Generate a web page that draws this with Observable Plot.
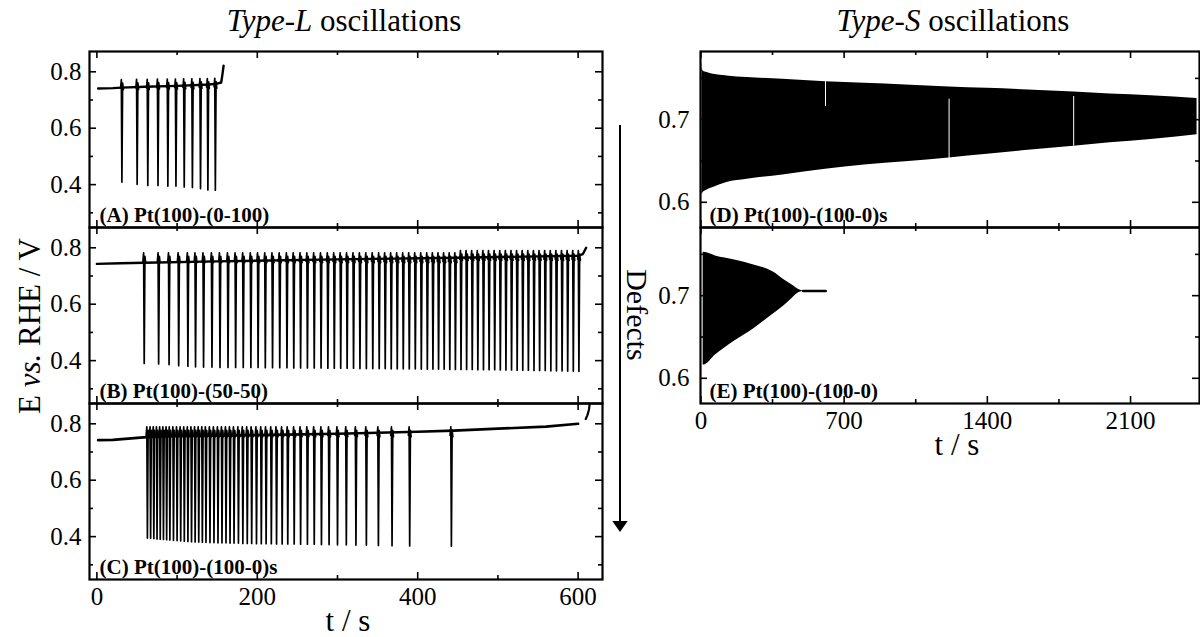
<!DOCTYPE html>
<html><head><meta charset="utf-8">
<script src="https://cdn.jsdelivr.net/npm/d3@7"></script>
<script src="https://cdn.jsdelivr.net/npm/@observablehq/plot@0.6"></script>
<style>
body{margin:0;background:#fff;}
#root{position:relative;width:1200px;height:637px;overflow:hidden;font-family:"Liberation Serif","Times New Roman",serif;}
#root .pn{position:absolute;}
#root svg{overflow:visible;max-width:none !important;}
</style></head><body><div id="root"></div>
<script>
// ---------- Panel A: Pt(100)-(0-100) ----------
const aBaseT = [1.6, 20, 31, 60, 100, 140, 150, 155, 156.5, 158];
const aBaseE = [0.741, 0.742, 0.744, 0.747, 0.750, 0.755, 0.758, 0.762, 0.790, 0.822];
const aSpikeT = [31.2, 50.2, 63.5, 76.2, 88.5, 98.6, 108.9, 119.1, 129.2, 138.4, 147.7];
const aSpikeMin = [0.409, 0.401, 0.397, 0.397, 0.395, 0.395, 0.392, 0.390, 0.386, 0.381, 0.380];
const aSpikeMax = [0.772, 0.773, 0.773, 0.774, 0.774, 0.774, 0.775, 0.775, 0.776, 0.776, 0.777];

// ---------- Panel B: Pt(100)-(50-50) ----------
const bBaseT = [0, 30, 59, 150, 300, 450, 600, 606, 610];
const bBaseE = [0.743, 0.745, 0.747, 0.752, 0.759, 0.765, 0.772, 0.778, 0.800];
const bSpikeT = [59, 77, 90, 102, 113.5, 123, 133, 143.5, 153.5, 163.5, 173, 182.5, 192, 201, 210, 219, 228, 237, 245.5, 254, 262.5, 271, 279.5, 288, 296, 304, 312, 320, 328, 336, 344, 352, 359.5, 367, 374.5, 382, 389.5, 397, 404.5, 412, 419, 426, 433, 440, 447, 454, 461, 468, 475, 482, 489, 496, 503, 510, 517, 524, 531, 538, 545, 552, 559, 566, 573, 580, 587, 594, 601];
const bSpikeMin = [0.390, 0.388, 0.386, 0.382, 0.380, 0.378, 0.377, 0.377, 0.376, 0.376, 0.376, 0.376, 0.376, 0.376, 0.375, 0.375, 0.375, 0.375, 0.374, 0.374, 0.374, 0.374, 0.374, 0.373, 0.373, 0.373, 0.373, 0.373, 0.372, 0.372, 0.372, 0.372, 0.372, 0.371, 0.371, 0.371, 0.371, 0.371, 0.370, 0.370, 0.370, 0.370, 0.370, 0.369, 0.369, 0.369, 0.369, 0.369, 0.368, 0.368, 0.368, 0.368, 0.367, 0.367, 0.367, 0.366, 0.366, 0.366, 0.365, 0.365, 0.365, 0.364, 0.364, 0.364, 0.363, 0.363, 0.362];
const bSpikeMax = 0.782;
const bSpikeMaxEnd = 0.790;

// ---------- Panel C: Pt(100)-(100-0)s ----------
const cBaseT = [1.5, 20, 58, 100, 200, 300, 400, 445, 500, 560, 600];
const cBaseE = [0.742, 0.743, 0.752, 0.757, 0.760, 0.765, 0.772, 0.776, 0.783, 0.790, 0.800];
const cRiseT = [609.5, 611.5, 613.5, 614.7];
const cRiseE = [0.817, 0.830, 0.850, 0.876];
const cSpikeT = [63, 67, 71, 75, 79, 83, 87, 91, 95.5, 100, 104.5, 109, 113.5, 118, 122.5, 127, 131.5, 136, 141, 146, 151, 156, 161, 166, 171, 176.5, 182, 187.5, 193, 199, 205, 211, 217.5, 224, 231, 238, 246, 254, 262.5, 271, 280, 289.5, 300, 311, 323, 336, 351, 368, 390, 442];
const cSpikeMin = [0.395, 0.394, 0.393, 0.392, 0.391, 0.390, 0.389, 0.388, 0.387, 0.386, 0.385, 0.384, 0.383, 0.382, 0.381, 0.381, 0.380, 0.380, 0.379, 0.379, 0.378, 0.378, 0.378, 0.377, 0.377, 0.377, 0.376, 0.376, 0.376, 0.375, 0.375, 0.375, 0.375, 0.374, 0.374, 0.374, 0.374, 0.373, 0.373, 0.373, 0.372, 0.372, 0.371, 0.371, 0.370, 0.370, 0.369, 0.368, 0.367, 0.366];
const cSpikeMax = 0.789;

// ---------- Panel D: Pt(100)-(100-0)s (Type-S) ----------
const dT  = [5, 7, 11, 30, 60, 127, 226, 400, 609, 800, 1000, 1213, 1400, 1600, 1822, 2000, 2200, 2425];
const dHi = [0.768, 0.762, 0.759, 0.757, 0.755, 0.753, 0.751, 0.749, 0.746, 0.744, 0.742, 0.7395, 0.738, 0.736, 0.7335, 0.731, 0.729, 0.7255];
const dLo = [0.609, 0.610, 0.612, 0.615, 0.618, 0.624, 0.628, 0.633, 0.640, 0.645, 0.649, 0.6537, 0.658, 0.663, 0.6677, 0.672, 0.676, 0.6819];
const dGapT  = [609, 1213, 1822];
const dGapLo = [0.716, 0.653, 0.668];
const dGapHi = [0.746, 0.7247, 0.728];

// ---------- Panel E: Pt(100)-(100-0) ----------
const eT  = [11, 14.7, 71, 165, 258.6, 352, 408, 445.7, 483, 500];
const eHi = [0.7524, 0.7524, 0.7480, 0.7432, 0.7371, 0.729, 0.719, 0.713, 0.7069, 0.7057];
const eLo = [0.6161, 0.6161, 0.6282, 0.6450, 0.6600, 0.6774, 0.6880, 0.6967, 0.704, 0.7050];
const eFlatT = [500, 610];
const eFlatE = [0.7057, 0.7057];

// ---------- axes ----------
const leftXDomain = [-9.2, 630.4];
const leftYDomain = [0.248, 0.872];
const leftXMajor = [0, 200, 400, 600], leftXMinor = [100, 300, 500];
const leftYMajor = [0.4, 0.6, 0.8], leftYMinor = [0.3, 0.5, 0.7];
const rightXDomain = [-2, 2437];
const rightYDomain = [0.5695, 0.7825];
const rightXMajor = [0, 700, 1400, 2100], rightXMinor = [350, 1050, 1750];
const rightYMajor = [0.6, 0.7], rightYMinor = [0.65, 0.75];

const labels = ["(A) Pt(100)-(0-100)", "(B) Pt(100)-(50-50)", "(C) Pt(100)-(100-0)s", "(D) Pt(100)-(100-0)s", "(E) Pt(100)-(100-0)"];

// ---------- helpers ----------
const zip = (ts, es) => ts.map((t, i) => ({t, E: es[i]}));
// one spike = short rise to its maximum, drop to its minimum, recovery
function spikeRows(ts, mins, maxs) {
  const rows = [];
  ts.forEach((t, i) => {
    const mx = Array.isArray(maxs) ? maxs[i] : maxs;
    rows.push({t: t - 1.6, E: mx - 0.03, k: i});
    rows.push({t: t - 0.7, E: mx, k: i});
    rows.push({t: t, E: mins[i], k: i});
    rows.push({t: t + 0.9, E: mx - 0.012, k: i});
    rows.push({t: t + 1.8, E: mx - 0.035, k: i});
  });
  return rows;
}
const FONT = "'Liberation Serif','Times New Roman',serif";
const root = document.getElementById("root");

function panel(cfg) {
  const M = 40;
  const iw = cfg.fx1 - cfg.fx0, ih = cfg.fy1 - cfg.fy0;
  const marks = [
    ...cfg.marks,
    Plot.tickY(cfg.yMajor, {insetRight: iw - 7, strokeWidth: 1.6}),
    Plot.tickY(cfg.yMinor, {insetRight: iw - 4, strokeWidth: 1.6}),
    Plot.tickY(cfg.yMajor, {insetLeft: iw - 7, strokeWidth: 1.6}),
    Plot.tickY(cfg.yMinor, {insetLeft: iw - 4, strokeWidth: 1.6}),
    Plot.tickX(cfg.xMajor, {insetTop: ih - 7, strokeWidth: 1.6}),
    Plot.tickX(cfg.xMinor, {insetTop: ih - 4, strokeWidth: 1.6}),
    Plot.tickX(cfg.xMajor, {insetBottom: ih - 7, strokeWidth: 1.6}),
    Plot.tickX(cfg.xMinor, {insetBottom: ih - 4, strokeWidth: 1.6}),
    Plot.axisY(cfg.yMajor, {anchor: "left", tickSize: 0, tickPadding: cfg.ypad, tickFormat: d => d.toFixed(1), fontSize: 25, label: null}),
    Plot.frame({strokeWidth: 2.2, stroke: "black"}),
    Plot.text([cfg.label], {frameAnchor: "bottom-left", dx: cfg.ldx, dy: -6, lineAnchor: "bottom", textAnchor: "start", fontWeight: "bold", fontSize: 21, fill: "black"})
  ];
  if (cfg.xLabels) marks.push(Plot.axisX(cfg.xMajor, {anchor: "bottom", tickSize: 0, tickPadding: 8, tickFormat: d => String(d), fontSize: 25, label: null}));
  const p = Plot.plot({
    width: iw + 2 * M, height: ih + 2 * M,
    marginLeft: M, marginRight: M, marginTop: M, marginBottom: M,
    x: {domain: cfg.xDomain, axis: cfg.xLabels ? undefined : null},
    y: {domain: cfg.yDomain},
    style: {background: "transparent", overflow: "visible", fontFamily: FONT, fontSize: "25px", color: "black", maxWidth: "none"},
    marks
  });
  const d = document.createElement("div");
  d.className = "pn";
  d.style.left = (cfg.fx0 - M) + "px";
  d.style.top = (cfg.fy0 - M) + "px";
  d.style.width = (iw + 2 * M) + "px";
  d.style.height = (ih + 2 * M) + "px";
  d.appendChild(p);
  root.appendChild(d);
}

const lineOpts = {x: "t", y: "E", stroke: "black", strokeWidth: 1.7};

// Left column
panel({fx0: 89, fx1: 602, fy0: 51, fy1: 227, xDomain: leftXDomain, yDomain: leftYDomain, ypad: 8,
  xMajor: leftXMajor, xMinor: leftXMinor, yMajor: leftYMajor, yMinor: leftYMinor, label: labels[0], ldx: 10,
  marks: [Plot.line(zip(aBaseT, aBaseE), {...lineOpts, strokeWidth: 2.4}),
          Plot.line(spikeRows(aSpikeT, aSpikeMin, aSpikeMax), {...lineOpts, z: "k"})]});
panel({fx0: 89, fx1: 602, fy0: 227, fy1: 403, xDomain: leftXDomain, yDomain: leftYDomain, ypad: 8,
  xMajor: leftXMajor, xMinor: leftXMinor, yMajor: leftYMajor, yMinor: leftYMinor, label: labels[1], ldx: 10,
  marks: [Plot.line(zip(bBaseT, bBaseE), {...lineOpts, strokeWidth: 2.4}),
          Plot.line(spikeRows(bSpikeT, bSpikeMin, bSpikeT.map((t) => t < 450 ? bSpikeMax : bSpikeMaxEnd)), {...lineOpts, z: "k"})]});
panel({fx0: 89, fx1: 602, fy0: 403, fy1: 579, xDomain: leftXDomain, yDomain: leftYDomain, ypad: 8, xLabels: true,
  xMajor: leftXMajor, xMinor: leftXMinor, yMajor: leftYMajor, yMinor: leftYMinor, label: labels[2], ldx: 10,
  marks: [Plot.line(zip(cBaseT, cBaseE), {...lineOpts, strokeWidth: 2.6}),
          Plot.line(zip(cRiseT, cRiseE), {...lineOpts, strokeWidth: 2.2, clip: true}),
          Plot.line(spikeRows(cSpikeT, cSpikeMin, cSpikeMax), {...lineOpts, z: "k"})]});

// Right column
const dRows = dT.map((t, i) => ({t, lo: dLo[i], hi: dHi[i]}));
const dGaps = dGapT.map((t, i) => ({t, lo: dGapLo[i], hi: dGapHi[i]}));
const eRows = eT.map((t, i) => ({t, lo: eLo[i], hi: eHi[i]}));
panel({fx0: 700, fx1: 1199, fy0: 51, fy1: 227, xDomain: rightXDomain, yDomain: rightYDomain, ypad: 11,
  xMajor: rightXMajor, xMinor: rightXMinor, yMajor: rightYMajor, yMinor: rightYMinor, label: labels[3], ldx: 9,
  marks: [Plot.areaY(dRows, {x: "t", y1: "lo", y2: "hi", fill: "black", curve: "monotone-x"}),
          Plot.ruleX(dGaps, {x: "t", y1: "lo", y2: "hi", stroke: "white", strokeWidth: 1})]});
panel({fx0: 700, fx1: 1199, fy0: 227, fy1: 403, xDomain: rightXDomain, yDomain: rightYDomain, ypad: 11, xLabels: true,
  xMajor: rightXMajor, xMinor: rightXMinor, yMajor: rightYMajor, yMinor: rightYMinor, label: labels[4], ldx: 9,
  marks: [Plot.areaY(eRows, {x: "t", y1: "lo", y2: "hi", fill: "black", curve: "monotone-x"}),
          Plot.line(zip(eFlatT, eFlatE), {...lineOpts, strokeWidth: 2.6})]});

// Annotations (titles, axis titles, defects arrow)
const ns = "http://www.w3.org/2000/svg";
const ov = document.createElementNS(ns, "svg");
ov.setAttribute("width", 1200); ov.setAttribute("height", 637);
ov.style.position = "absolute"; ov.style.left = "0"; ov.style.top = "0";
ov.style.fontFamily = FONT;
ov.innerHTML = `
  <text x="344" y="31" text-anchor="middle" font-size="31"><tspan font-style="italic">Type-L</tspan> oscillations</text>
  <text x="953" y="31" text-anchor="middle" font-size="31"><tspan font-style="italic">Type-S</tspan> oscillations</text>
  <text transform="translate(40,326) rotate(-90)" text-anchor="middle" font-size="31">E <tspan font-style="italic">vs.</tspan> RHE / V</text>
  <text x="348" y="631" text-anchor="middle" font-size="31">t / s</text>
  <text x="957" y="455" text-anchor="middle" font-size="31">t / s</text>
  <line x1="620" y1="125" x2="620" y2="522" stroke="black" stroke-width="2"/>
  <polygon points="612.3,521 627.7,521 620,532" fill="black"/>
  <text transform="translate(627,315) rotate(90)" text-anchor="middle" font-size="30">Defects</text>
`;
root.appendChild(ov);
</script></body></html>
